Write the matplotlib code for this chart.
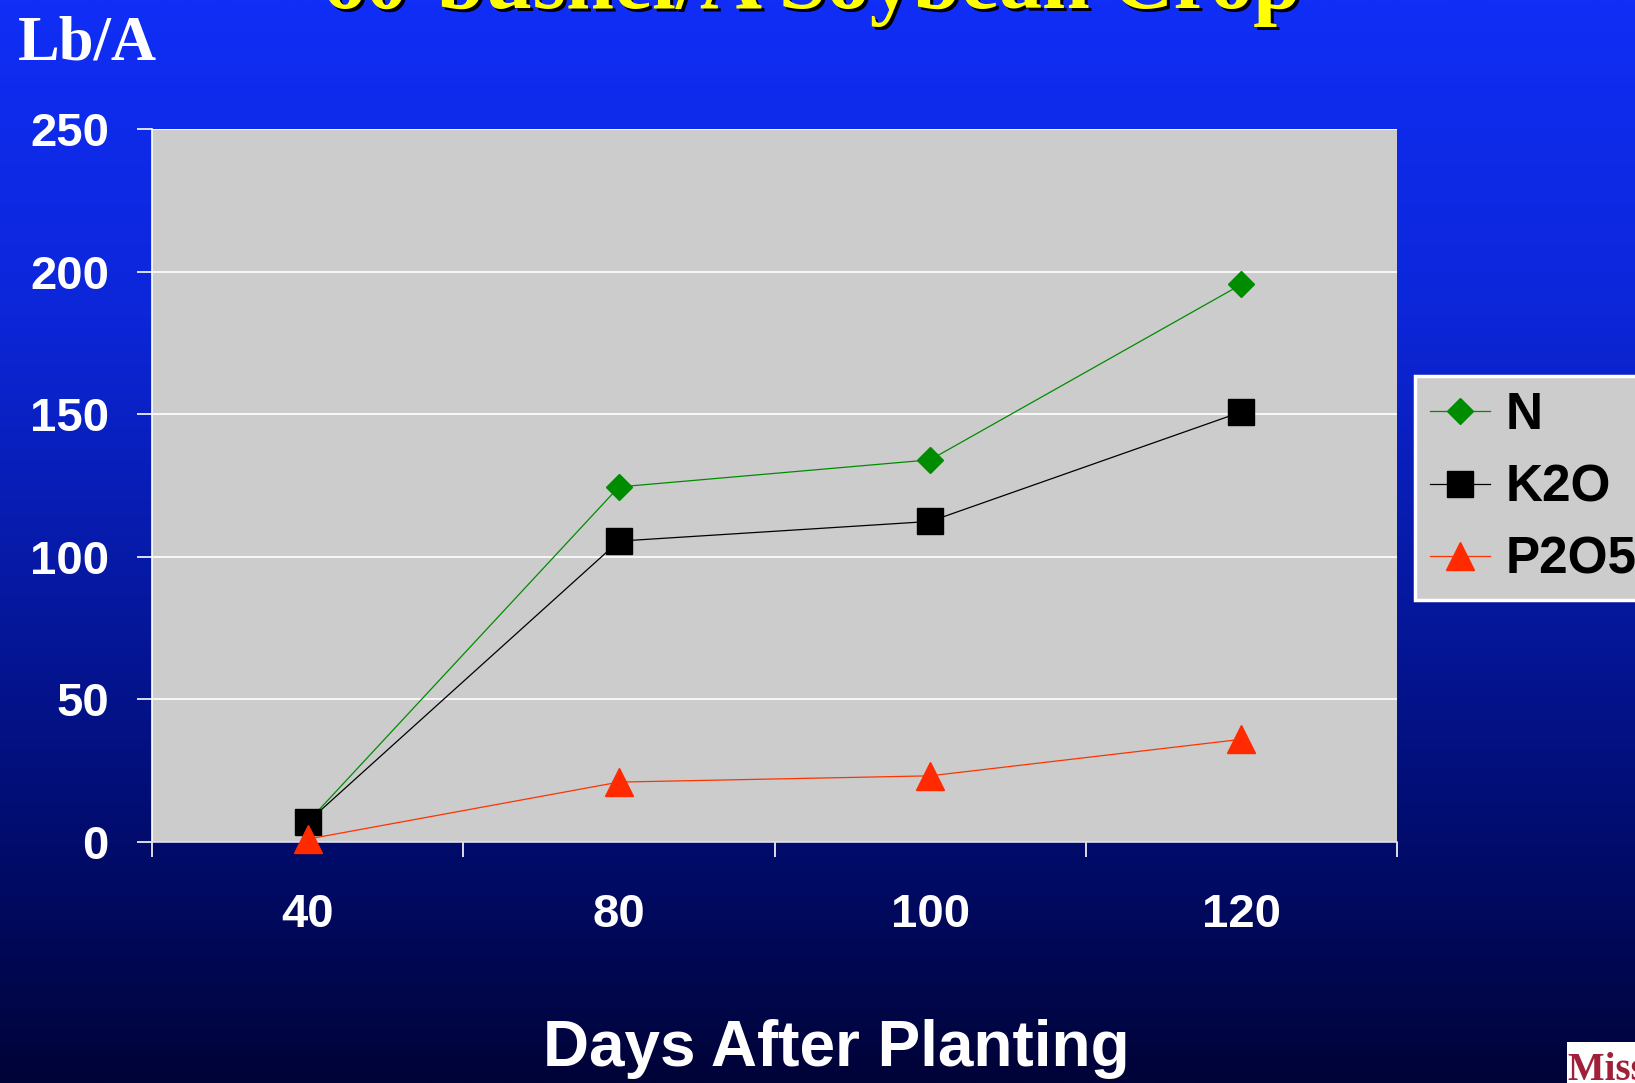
import matplotlib
matplotlib.use('Agg')
import matplotlib.pyplot as plt
import numpy as np
from matplotlib.colors import LinearSegmentedColormap
from matplotlib.patches import Rectangle

# ---- data ----
days = ['40', '80', '100', '120']
n_vals = [7, 124.5, 134, 195.5]
k2o_vals = [7, 105.5, 112.4, 150.8]
p2o5_vals = [1, 21, 23.2, 36]
series_names = ['N', 'K2O', 'P2O5']
y_ticks = [0, 50, 100, 150, 200, 250]
title_text = '60-bushel/A Soybean Crop'
y_label = 'Lb/A'
x_label = 'Days After Planting'

W, H = 1635, 1083
fig = plt.figure(figsize=(W / 100, H / 100), dpi=100)

# background gradient
bg = fig.add_axes([0, 0, 1, 1], zorder=-10)
cmap = LinearSegmentedColormap.from_list('bg', [
    (0.0, (16/255, 46/255, 246/255)),
    (0.3, (12/255, 38/255, 215/255)),
    (0.55, (6/255, 24/255, 160/255)),
    (0.78, (1/255, 12/255, 108/255)),
    (1.0, (0/255, 3/255, 55/255)),
])
grad = np.linspace(0, 1, 512).reshape(-1, 1)
bg.imshow(grad, aspect='auto', cmap=cmap, extent=[0, 1, 0, 1], origin='upper')
bg.set_xlim(0, 1); bg.set_ylim(0, 1)
bg.axis('off')

sans = ['Liberation Sans', 'DejaVu Sans']
serif = ['Liberation Serif', 'DejaVu Serif']

left, right, top, bottom = 152, 1397, 129, 842
ax = fig.add_axes([left / W, 1 - bottom / H, (right - left) / W, (bottom - top) / H])
ax.set_facecolor('#CCCCCC')

x = np.arange(len(days))
ax.plot(x, n_vals, color='#008C00', lw=0.9, marker='D', ms=13.5,
        mfc='#008C00', mec='#008C00', label=series_names[0], zorder=3, clip_on=False)
ax.plot(x, k2o_vals, color='black', lw=0.9, marker='s', ms=18.5,
        mfc='black', mec='black', label=series_names[1], zorder=4, clip_on=False)
ax.plot(x, p2o5_vals, color='#FF3300', lw=0.9, marker='^', ms=19.5,
        mfc='#FF2A00', mec='#FF2A00', label=series_names[2], zorder=5, clip_on=False)

ax.set_xlim(-0.5, len(days) - 0.5)
ax.set_ylim(0, 250)
ax.set_yticks(y_ticks)
ax.yaxis.grid(True, color='white', lw=1.2)
ax.set_axisbelow(True)
for s in ['top', 'right']:
    ax.spines[s].set_visible(False)
ax.spines['left'].set_color('white')
ax.spines['left'].set_linewidth(1.2)
ax.spines['bottom'].set_color('#D8D8F0')
ax.spines['bottom'].set_linewidth(1.2)

ax.set_xticks(x)
ax.set_xticklabels(days)
ax.set_xticks(np.arange(len(days) + 1) - 0.5, minor=True)
ax.tick_params(axis='x', which='major', length=0, pad=37, labelsize=34, labelcolor='white')
ax.tick_params(axis='x', which='minor', length=11, width=1.2, color='white', direction='out')
ax.tick_params(axis='y', which='major', length=11, width=1.2, color='white', direction='out',
               pad=20, labelsize=34, labelcolor='white')
for lab in ax.get_xticklabels() + ax.get_yticklabels():
    lab.set_fontfamily(sans)
    lab.set_fontweight('bold')

# legend
leg = fig.legend(handles=ax.get_lines(), labels=series_names,
                 loc='upper left', bbox_to_anchor=(1415 / W, 1 - 376 / H),
                 bbox_transform=fig.transFigure, borderaxespad=0,
                 prop={'family': sans, 'weight': 'bold', 'size': 37},
                 handlelength=1.16, handletextpad=0.3, labelspacing=0.45,
                 borderpad=0.3, fancybox=False, framealpha=1)
leg.get_frame().set_facecolor('#CCCCCC')
leg.get_frame().set_edgecolor('white')
leg.get_frame().set_linewidth(2.5)

# texts
fig.text(18 / W, 1 - 59 / H, y_label, family=serif, weight='bold', size=45,
         color='white', ha='left', va='baseline')
fig.text(836 / W, 1 - 1049 / H, x_label, family=sans, weight='bold', size=46,
         color='white', ha='center', va='center')

tx, ty = 812 / W, 1 - 8 / H
fig.text(tx + 3 / W, ty - 3 / H, title_text, family=serif, weight='bold', size=62,
         color='black', ha='center', va='baseline')
fig.text(tx, ty, title_text, family=serif, weight='bold', size=62,
         color='#FFFF00', ha='center', va='baseline')

# logo fragment
fig.patches.append(Rectangle((1567 / W, 0), (W - 1567) / W, 41 / H,
                             transform=fig.transFigure, facecolor='white',
                             edgecolor='none', zorder=5))
fig.text(1568 / W, -6 / H, 'Mississippi State', family=serif, weight='bold', size=28,
         color='#A0203A', ha='left', va='bottom', zorder=6)

fig.savefig('out.png', dpi=100)
